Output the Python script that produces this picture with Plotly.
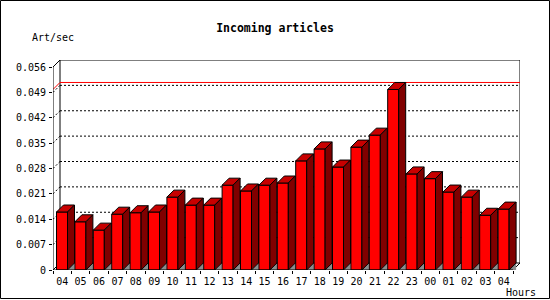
import plotly.graph_objects as go

# ---- data ----
hours = ["04", "05", "06", "07", "08", "09", "10", "11", "12", "13", "14", "15",
         "16", "17", "18", "19", "20", "21", "22", "23", "00", "01", "02", "03", "04"]
rates = [0.0160, 0.0133, 0.0110, 0.0154, 0.0158, 0.0160, 0.0201, 0.0179, 0.0179,
         0.0234, 0.0218, 0.0234, 0.0240, 0.0301, 0.0334, 0.0284, 0.0339, 0.0372,
         0.0498, 0.0265, 0.0252, 0.0215, 0.0201, 0.0151, 0.0168]
y_ticks = [0, 0.007, 0.014, 0.021, 0.028, 0.035, 0.042, 0.049, 0.056]
y_tick_text = ["0", "0.007", "0.014", "0.021", "0.028", "0.035", "0.042", "0.049", "0.056"]
title = "Incoming articles"
y_title = "Art/sec"
x_title = "Hours"

# ---- geometry / style ----
W, H = 550, 300
ML, MT, MB = 53, 60, 30
n = len(hours)
slot_px = 18.4
dx_px, dy_px = 7, 7
plot_w = n * slot_px + dx_px
plot_h = H - MT - MB
MR = W - ML - plot_w
ymax = y_ticks[-1]
yscale = (plot_h - dy_px) / ymax
dxu = dx_px / slot_px
dyu = dy_px / yscale
bar_l = 3.5 / slot_px
bar_r = 14.5 / slot_px

FRONT = "#ff0000"
TOP = "#c80000"
SIDE = "#800000"
SHADOW = "#8c8c8c"
FONT = "DejaVu Sans Mono"


def path(pts):
    return "M " + " L ".join(f"{x},{y}" for x, y in pts) + " Z"


shapes = []
# back wall
shapes.append(dict(type="rect", xref="x", yref="y", x0=dxu, x1=n + dxu, y0=dyu, y1=ymax + dyu,
                   line=dict(color="black", width=1), fillcolor="white"))
# grid lines on back wall + dotted diagonals
for t in y_ticks[1:-1]:
    shapes.append(dict(type="line", xref="x", yref="y", x0=dxu, x1=n + dxu, y0=t + dyu, y1=t + dyu,
                       line=dict(color="black", width=1, dash="2px,2px")))
    shapes.append(dict(type="line", xref="x", yref="y", x0=0, x1=dxu, y0=t, y1=t + dyu,
                       line=dict(color="black", width=1, dash="2px,2px")))
# max line
vmax = max(rates)
shapes.append(dict(type="line", xref="x", yref="y", x0=dxu, x1=n + dxu, y0=vmax + dyu, y1=vmax + dyu,
                   line=dict(color="#ff0000", width=1)))
shapes.append(dict(type="line", xref="x", yref="y", x0=0, x1=dxu, y0=vmax, y1=vmax + dyu,
                   line=dict(color="#ff0000", width=1)))
# floor / frame diagonals
for (xa, ya) in [(0, 0), (n, 0), (0, ymax)]:
    shapes.append(dict(type="line", xref="x", yref="y", x0=xa, x1=xa + dxu, y0=ya, y1=ya + dyu,
                       line=dict(color="black", width=1)))
# bars
for i, v in enumerate(rates):
    x0 = i + bar_l
    x1 = i + bar_r
    shapes.append(dict(type="path", xref="x", yref="y",
                       path=path([(x1, 0), (x1 + dxu, dyu), (x1 + dxu, 0)]),
                       fillcolor=SHADOW, line=dict(width=0)))
    shapes.append(dict(type="path", xref="x", yref="y",
                       path=path([(x0, 0), (x1, 0), (x1, v), (x0, v)]),
                       fillcolor=FRONT, line=dict(color="black", width=1)))
    shapes.append(dict(type="path", xref="x", yref="y",
                       path=path([(x0, v), (x1, v), (x1 + dxu, v + dyu), (x0 + dxu, v + dyu)]),
                       fillcolor=TOP, line=dict(color="black", width=1)))
    shapes.append(dict(type="path", xref="x", yref="y",
                       path=path([(x1, 0), (x1, v), (x1 + dxu, v + dyu), (x1 + dxu, dyu)]),
                       fillcolor=SIDE, line=dict(color="black", width=1)))
# front axes
shapes.append(dict(type="line", xref="x", yref="y", x0=0, x1=n, y0=0, y1=0,
                   line=dict(color="black", width=1)))
shapes.append(dict(type="line", xref="x", yref="y", x0=0, x1=0, y0=0, y1=ymax,
                   line=dict(color="black", width=1)))


def px_x(p):
    return (p - ML) / plot_w


def px_y(p):
    return (H - MB - p) / plot_h


# image border
shapes.append(dict(type="rect", xref="paper", yref="paper",
                   x0=px_x(0.5), x1=px_x(W - 0.5), y0=px_y(H - 1.5), y1=px_y(0.5),
                   line=dict(color="black", width=1)))

fig = go.Figure()
fig.add_trace(go.Scatter(x=[0.5], y=[0], mode="none", hoverinfo="skip", showlegend=False))

fig.update_layout(
    width=W, height=H,
    margin=dict(l=ML, r=MR, t=MT, b=MB),
    paper_bgcolor="white", plot_bgcolor="white",
    showlegend=False,
    shapes=shapes,
    title=dict(text=title, x=0.5, xref="container", xanchor="center",
               y=1 - 27.5 / H, yref="container", yanchor="middle",
               font=dict(family=FONT, size=11.5, color="black", weight="bold")),
    xaxis=dict(range=[0, n + dxu], tickmode="array",
               tickvals=[i + 0.5 for i in range(n)], ticktext=hours,
               ticks="", showgrid=False, zeroline=False, showline=False,
               ticklabelstandoff=4,
               tickfont=dict(family=FONT, size=10, color="black"),
               minor=dict(tickmode="array", tickvals=list(range(n + 1)), ticks="outside",
                          ticklen=3, tickcolor="black", tickwidth=1, showgrid=False),
               fixedrange=True),
    yaxis=dict(range=[0, ymax + dyu], tickmode="array", tickvals=y_ticks, ticktext=y_tick_text,
               ticks="outside", ticklen=3, tickcolor="black", tickwidth=1,
               showgrid=False, zeroline=False, showline=False,
               ticklabelstandoff=1,
               tickfont=dict(family=FONT, size=10, color="black"),
               fixedrange=True),
    annotations=[
        dict(text=y_title, xref="paper", yref="paper", x=px_x(30), y=px_y(37.5),
             xanchor="left", yanchor="middle", showarrow=False,
             font=dict(family=FONT, size=10, color="black")),
        dict(text=x_title, xref="paper", yref="paper", x=px_x(504), y=px_y(292.5),
             xanchor="left", yanchor="middle", showarrow=False,
             font=dict(family=FONT, size=10, color="black")),
    ],
)

fig.write_html("out.html")
